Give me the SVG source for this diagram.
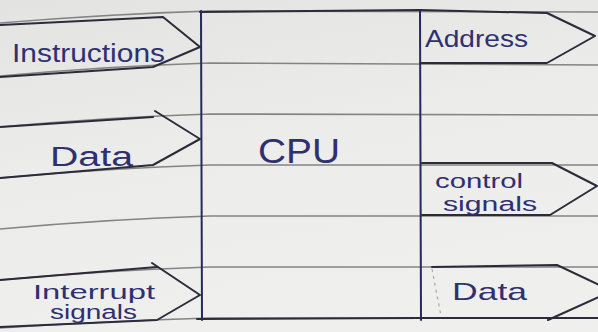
<svg xmlns="http://www.w3.org/2000/svg" width="598" height="332" viewBox="0 0 598 332">
  <defs>
    <linearGradient id="paperFill" x1="0" y1="0" x2="0.3" y2="1">
      <stop offset="0" stop-color="#e3e3e1"/>
      <stop offset="0.5" stop-color="#ececea"/>
      <stop offset="1" stop-color="#efefed"/>
    </linearGradient>
    <style>
      .rule { fill: none; stroke: #848484; stroke-width: 1.6; }
      .pen { fill: none; stroke: #2b2b3a; stroke-width: 2; stroke-linecap: round; stroke-linejoin: round; }
      .ink { fill: none; stroke: #26285e; stroke-width: 2; stroke-linecap: round; }
      .faint { fill: none; stroke: #a8a8a4; stroke-width: 1.2; stroke-dasharray: 3 4; }
      .label { font-family: "Liberation Sans", "DejaVu Sans", sans-serif; fill: #2e3070; }
    </style>
  </defs>

  <!-- ruled notebook paper -->
  <g id="paper">
    <rect width="598" height="332" fill="url(#paperFill)"/>
    <path class="rule" d="M0,23 Q110,14 210,11 L598,12"/>
    <path class="rule" d="M0,76 Q110,66 210,63 L598,65"/>
    <path class="rule" d="M0,127 Q110,117 210,114 L598,115"/>
    <path class="rule" d="M0,178 Q110,168 210,165 L598,165"/>
    <path class="rule" d="M0,229 Q110,219 210,216 L598,216"/>
    <path class="rule" d="M0,280 Q110,270 210,267 L598,267"/>
    <path class="rule" d="M0,328 Q110,321 210,318 L598,318"/>
  </g>

  <!-- central processing unit box -->
  <g id="cpu">
    <path class="pen" d="M200,12 L420,10"/>
    <path class="pen" d="M197,319 L420,318"/>
    <path class="ink" d="M201,11 L202,320"/>
    <path class="ink" d="M420,10 L421,320"/>
    <text class="label" x="258" y="163" font-size="35" textLength="82" lengthAdjust="spacingAndGlyphs">CPU</text>
  </g>

  <!-- block arrows into and out of the CPU -->
  <g id="connectors">
    <g id="arrow-instructions">
      <path class="pen" d="M0,25 L163,17 L200,47 L153,67 L0,77"/>
      <text class="label" x="12" y="62" font-size="26" textLength="153" lengthAdjust="spacingAndGlyphs">Instructions</text>
    </g>
    <g id="arrow-data-in">
      <path class="pen" d="M0,127 L153,117"/>
      <path class="pen" d="M155,111 L200,139 L153,165 L0,178"/>
      <text class="label" x="50" y="166" font-size="27" textLength="83" lengthAdjust="spacingAndGlyphs">Data</text>
    </g>
    <g id="arrow-interrupt">
      <path class="pen" d="M0,280 L157,267"/>
      <path class="pen" d="M152,263 L200,295 L157,320 L0,327"/>
      <text class="label" x="33" y="299" font-size="20" textLength="122" lengthAdjust="spacingAndGlyphs">Interrupt</text>
      <text class="label" x="50" y="319" font-size="20" textLength="87" lengthAdjust="spacingAndGlyphs">signals</text>
    </g>
    <g id="arrow-address">
      <path class="pen" d="M420,10 L547,13 L595,36 L547,63 L420,63"/>
      <text class="label" x="425" y="47" font-size="24" textLength="103" lengthAdjust="spacingAndGlyphs">Address</text>
    </g>
    <g id="arrow-control">
      <path class="pen" d="M422,163 L552,163 L597,186 L550,215 L422,215"/>
      <text class="label" x="435" y="188" font-size="20" textLength="88" lengthAdjust="spacingAndGlyphs">control</text>
      <text class="label" x="443" y="211" font-size="20" textLength="94" lengthAdjust="spacingAndGlyphs">signals</text>
    </g>
    <g id="arrow-data-out">
      <path class="faint" d="M432,269 L441,316"/>
      <path class="pen" d="M432,267 L557,265 L612,291 L548,320"/>
      <path class="pen" d="M421,318 L598,318"/>
      <text class="label" x="452" y="300" font-size="24" textLength="75" lengthAdjust="spacingAndGlyphs">Data</text>
    </g>
  </g>
</svg>
